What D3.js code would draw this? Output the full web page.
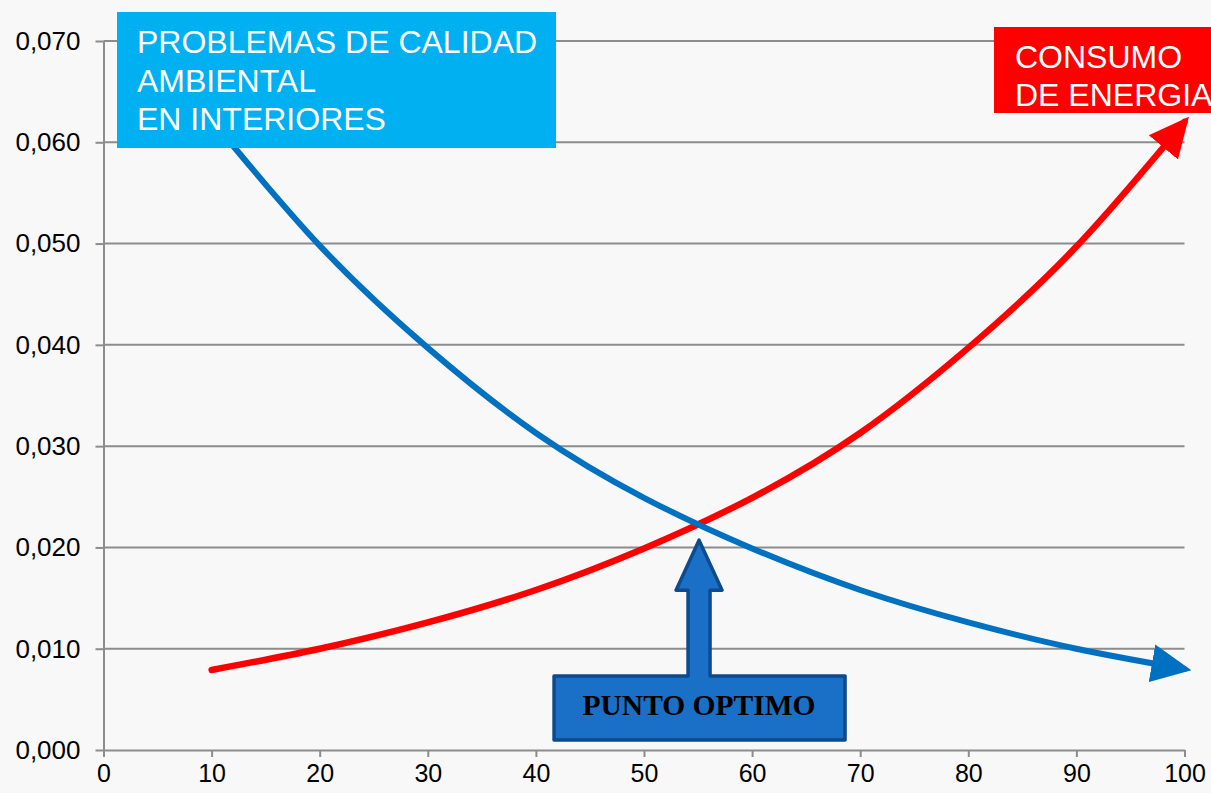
<!DOCTYPE html>
<html>
<head>
<meta charset="utf-8">
<script src="https://cdn.jsdelivr.net/npm/d3@7"></script>
<style>
  body{margin:0;background:#f8f8f8}
  svg{display:block}
</style>
</head>
<body>
<div id="chart"></div>
<script>
// values
var xVals    = [10, 20, 30, 40, 50, 60, 70, 80, 90, 100]
var energia  = [0.0079, 0.0100, 0.0126, 0.0158, 0.0199, 0.0249, 0.0313, 0.0397, 0.0497, 0.0620]
var calidad  = [0.0622, 0.0498, 0.0397, 0.0313, 0.0249, 0.0199, 0.0158, 0.0126, 0.0100, 0.0080]
var xTicks   = [0, 10, 20, 30, 40, 50, 60, 70, 80, 90, 100]
var yTicks   = [0, 0.01, 0.02, 0.03, 0.04, 0.05, 0.06, 0.07]
var optimo   = {x: 55, y: 0.0222}

var w = 1211
var h = 793

var svg = d3.select('#chart').append('svg')
    .attr('width', w)
    .attr('height', h)

svg.append('rect')
    .attr('width', w).attr('height', h)
    .attr('fill', '#f8f8f8')

var x = d3.scaleLinear().domain([0, 100]).range([103.5, 1184.5])
var y = d3.scaleLinear().domain([0, 0.07]).range([750, 41])

var fmt = function(d){ return d3.format('.3f')(d).replace('.', ',') }

// grid + y axis
var yAxis = svg.append('g')
    .attr('transform', 'translate(' + x(0) + ',0)')
    .call(d3.axisLeft(y).tickValues(yTicks).tickFormat(fmt)
          .tickSize(8).tickSizeOuter(0).tickPadding(15))
yAxis.select('.domain').attr('stroke', '#8c8c8c').attr('stroke-width', 2)
yAxis.selectAll('.tick line').attr('stroke', '#8c8c8c').attr('stroke-width', 2)
yAxis.selectAll('.tick text')
    .attr('font-family', 'Liberation Sans, Arial, sans-serif')
    .attr('font-size', 26)
    .attr('fill', '#000')

svg.append('g').selectAll('line')
    .data(yTicks.filter(function(d){ return d > 0 }))
    .enter().append('line')
    .attr('x1', x(0)).attr('x2', x(100))
    .attr('y1', function(d){ return y(d) })
    .attr('y2', function(d){ return y(d) })
    .attr('stroke', '#8c8c8c')
    .attr('stroke-width', 2)

// x axis
var xAxis = svg.append('g')
    .attr('transform', 'translate(0,' + y(0) + ')')
    .call(d3.axisBottom(x).tickValues(xTicks).tickFormat(d3.format('d'))
          .tickSize(7).tickSizeOuter(0).tickPadding(7))
xAxis.select('.domain').attr('stroke', '#8c8c8c').attr('stroke-width', 2)
xAxis.selectAll('.tick line').attr('stroke', '#8c8c8c').attr('stroke-width', 2)
xAxis.selectAll('.tick text')
    .attr('font-family', 'Liberation Sans, Arial, sans-serif')
    .attr('font-size', 25)
    .attr('fill', '#000')

// arrow heads
var defs = svg.append('defs')
function marker(id, color){
  defs.append('marker')
      .attr('id', id)
      .attr('viewBox', '0 0 40 40')
      .attr('markerWidth', 40)
      .attr('markerHeight', 40)
      .attr('markerUnits', 'userSpaceOnUse')
      .attr('refX', 33)
      .attr('refY', 20)
      .attr('orient', 'auto')
    .append('path')
      .attr('d', 'M0,1 L40,20 L0,39 Z')
      .attr('fill', color)
}
marker('arrRed', '#ff0000')
marker('arrBlue', '#0070c0')

var line = d3.line()
    .x(function(d){ return x(d[0]) })
    .y(function(d){ return y(d[1]) })
    .curve(d3.curveNatural)

svg.append('path')
    .datum(d3.zip(xVals, energia))
    .attr('d', line)
    .attr('fill', 'none')
    .attr('stroke', '#ff0000')
    .attr('stroke-width', 6.5)
    .attr('stroke-linecap', 'round')
    .attr('marker-end', 'url(#arrRed)')

svg.append('path')
    .datum(d3.zip(xVals, calidad))
    .attr('d', line)
    .attr('fill', 'none')
    .attr('stroke', '#0070c0')
    .attr('stroke-width', 6)
    .attr('stroke-linecap', 'round')
    .attr('marker-end', 'url(#arrBlue)')

// label boxes
var blue = svg.append('g')
blue.append('rect')
    .attr('x', 117).attr('y', 12).attr('width', 439).attr('height', 136)
    .attr('fill', '#00b0f0')
blue.append('text')
    .attr('font-family', 'Liberation Sans, Arial, sans-serif')
    .attr('font-size', 32)
    .attr('fill', '#fff')
    .selectAll('tspan')
    .data(['PROBLEMAS DE CALIDAD', 'AMBIENTAL', 'EN INTERIORES'])
    .enter().append('tspan')
    .attr('x', 137)
    .attr('y', function(d, i){ return 53 + i * 38.5 })
    .text(function(d){ return d })

var red = svg.append('g')
red.append('rect')
    .attr('x', 994).attr('y', 27).attr('width', 230).attr('height', 86)
    .attr('fill', '#ff0000')
red.append('text')
    .attr('font-family', 'Liberation Sans, Arial, sans-serif')
    .attr('font-size', 32)
    .attr('fill', '#fff')
    .selectAll('tspan')
    .data(['CONSUMO', 'DE ENERGIA'])
    .enter().append('tspan')
    .attr('x', 1015)
    .attr('y', function(d, i){ return 68 + i * 38 })
    .text(function(d){ return d })

// punto optimo: box + block arrow as one shape
var cx = x(optimo.x) + 1
var tipY = y(optimo.y) + 15
var shape = [
  [cx - 145, 740], [cx - 145, 676], [cx - 11, 676], [cx - 11, tipY + 50],
  [cx - 23, tipY + 50], [cx, tipY], [cx + 23, tipY + 50], [cx + 11, tipY + 50],
  [cx + 11, 676], [cx + 146, 676], [cx + 146, 740]
]
svg.append('path')
    .attr('d', 'M' + shape.join('L') + 'Z')
    .attr('fill', '#1a6fc6')
    .attr('stroke', '#0d4b8e')
    .attr('stroke-width', 3.5)
    .attr('stroke-linejoin', 'round')

svg.append('text')
    .attr('x', cx)
    .attr('y', 715)
    .attr('text-anchor', 'middle')
    .attr('font-family', 'Liberation Serif, Times New Roman, serif')
    .attr('font-weight', 'bold')
    .attr('font-size', 29.5)
    .attr('fill', '#000')
    .text('PUNTO OPTIMO')
</script>
</body>
</html>
